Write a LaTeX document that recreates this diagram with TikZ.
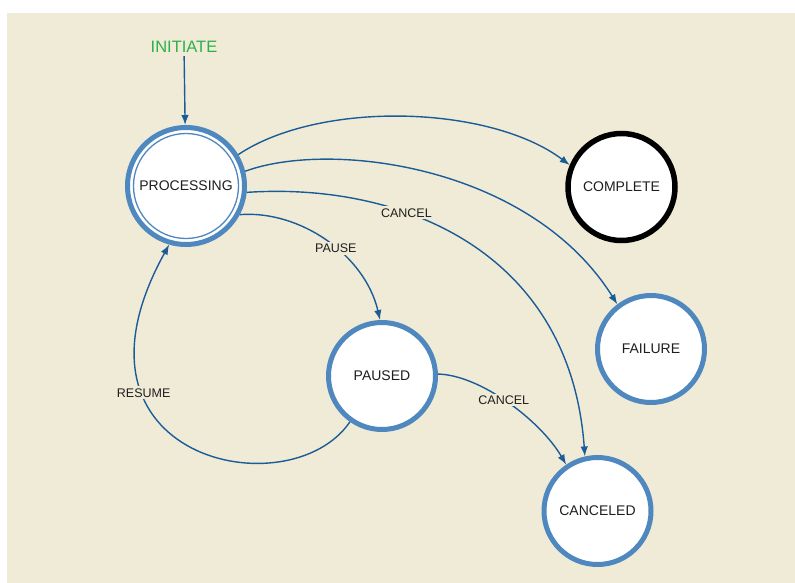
\documentclass[tikz,border=0pt]{standalone}
\usepackage{fontspec}
\setmainfont{Liberation Sans}
\usetikzlibrary{arrows.meta}
\definecolor{bg}{HTML}{F0EBD7}
\definecolor{ring}{HTML}{4F87BF}
\definecolor{edgec}{HTML}{1B5C98}
\definecolor{initc}{HTML}{2DB04B}
\definecolor{txt}{HTML}{1E1E1E}
\begin{document}
\begin{tikzpicture}[x=1pt,y=-1pt,
  state/.style={circle, draw=ring, line width=5pt, fill=white, minimum size=107pt, inner sep=0pt, font=\fontsize{14}{16}\selectfont, text=txt},
  trans/.style={draw=edgec, line width=1.4pt, -{Latex[length=10pt,width=7.5pt]}},
  lbl/.style={fill=bg, inner sep=2pt, font=\fontsize{12.5}{14}\selectfont, text=txt}]
\useasboundingbox (0,0) rectangle (795,583);
\fill[bg] (7,13) rectangle (795,583);
\node[state, minimum size=117pt] (proc) at (186,186) {PROCESSING};
\node[circle, draw=ring, line width=1.3pt, minimum size=105pt, inner sep=0pt] (procin) at (proc) {};
\node[state, draw=black, line width=5.5pt] (comp) at (621.5,187) {COMPLETE};
\node[state] (fail) at (651,349) {FAILURE};
\node[state] (canc) at (597.5,511) {CANCELED};
\node[state] (paus) at (382,376) {PAUSED};
\node[text=initc, font=\fontsize{16.5}{18}\selectfont] (init) at (184,47) {INITIATE};
\draw[trans] (init) -- (proc);
\draw[trans] (proc.31) .. controls (320,100) and (490,105) .. (comp.157);
\draw[trans] (proc.14) .. controls (330,140) and (530,165) .. (fail.127);
\draw[trans] (proc.-6) .. controls (400,182) and (570,250) .. node[lbl,pos=0.35]{CANCEL} (canc.103);
\draw[trans] (proc.-28) .. controls (300,210) and (365,255) .. node[lbl,pos=0.56]{PAUSE} (paus.92);
\draw[trans] (paus.2) .. controls (480,375) and (540,420) .. node[lbl,pos=0.47]{CANCEL} (canc.124);
\draw[trans] (paus.235) .. controls (290,510) and (50,460) .. node[lbl,pos=0.705]{RESUME} (proc.254);
\end{tikzpicture}
\end{document}
